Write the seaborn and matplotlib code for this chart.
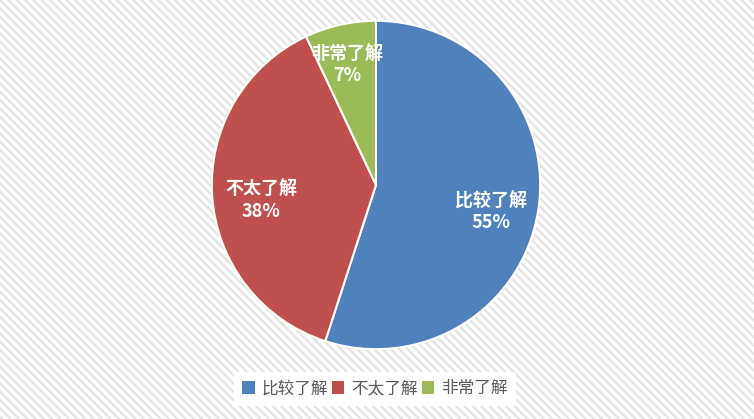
import matplotlib
matplotlib.use('Agg')
import matplotlib.pyplot as plt
from matplotlib.patches import Rectangle
import numpy as np
import seaborn as sns

# Data
categories = ['比较了解', '不太了解', '非常了解']
shares = [55, 38, 7]
colors = ['#4F81BD', '#C0504D', '#9BBB59']

sns.set_theme(style='white')
plt.rcParams['font.family'] = ['Noto Sans CJK SC', 'DejaVu Sans']
plt.rcParams['hatch.linewidth'] = 1.6
plt.rcParams['hatch.color'] = '#e4e4e4'

fig = plt.figure(figsize=(7.54, 4.19), dpi=100)
fig.patch.set_facecolor('white')

# striped background
bg = Rectangle((0, 0), 1, 1, transform=fig.transFigure, facecolor='white',
               edgecolor='#e4e4e4', hatch='\\\\\\\\', linewidth=0, zorder=-10)
fig.patches.append(bg)

ax = fig.add_axes([0.2798, 0.1647, 0.4377, 0.7876])
ax.set_facecolor('none')

wedges, texts, autotexts = ax.pie(
    shares, colors=colors, startangle=90, counterclock=False,
    autopct=lambda p: f'{p:.0f}%', pctdistance=0.72,
    wedgeprops=dict(edgecolor='white', linewidth=1.5))

# label distance from centre per slice
label_r = [0.71, 0.70, 0.80]
for t, name, w, r in zip(autotexts, categories, wedges, label_r):
    ang = np.deg2rad((w.theta1 + w.theta2) / 2)
    t.set_position((r * np.cos(ang), r * np.sin(ang) - 0.05))
    t.set_text(f'{name}\n{t.get_text()}')
    t.set_color('white')
    t.set_fontweight('bold')
    t.set_fontsize(13)
    t.set_linespacing(1.15)

ax.set_xlim(-1.005, 1.005)
ax.set_ylim(-1.005, 1.005)
ax.set_aspect('equal')

leg = fig.legend(wedges, categories, loc='center', bbox_to_anchor=(0.497, 0.072),
                 ncol=3, frameon=True, fontsize=12, handlelength=0.75,
                 handleheight=0.75, handletextpad=0.4, columnspacing=0.25,
                 labelcolor='#595959', borderpad=0.5)
leg.get_frame().set_facecolor('white')
leg.get_frame().set_edgecolor('none')
leg.get_frame().set_alpha(1)
for h in leg.legend_handles:
    h.set_edgecolor('none')

fig.savefig('out.png', dpi=100)
